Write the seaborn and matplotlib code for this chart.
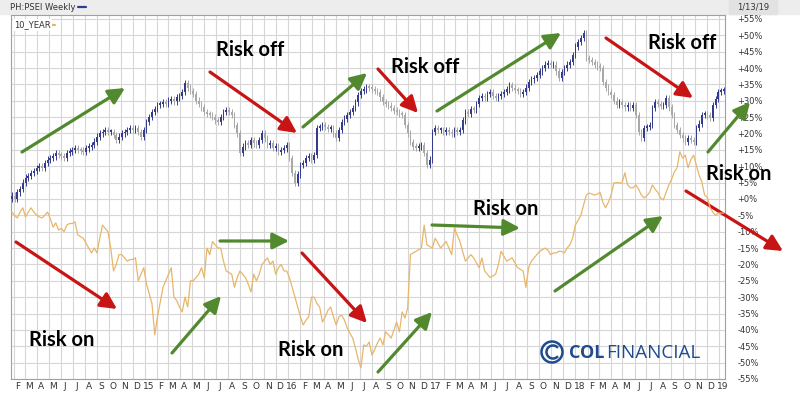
import pandas as pd
import matplotlib as mpl
mpl.use('agg')
import matplotlib.pyplot as plt
import matplotlib.dates as mdates
from matplotlib.ticker import FuncFormatter, NullFormatter, FixedLocator
from matplotlib.patches import Rectangle, Circle, Arc
from matplotlib.lines import Line2D
import seaborn as sns

# weekly PSEI close, % change from start
psei_close = [1, 0, 2, 3, 5, 6.5, 7, 8, 8.5, 9.5,
              10, 9.5, 11, 12, 12.5, 13, 14, 13.5, 13, 12.5,
              14, 14.5, 15, 15.5, 15, 14.8, 14.4, 15.5, 16, 16.5,
              17.5, 19, 20, 20.5, 21, 20.5, 20.5, 19.5, 18, 19,
              20, 20.5, 21, 21.5, 21, 21.7, 20.5, 19, 21, 23.5,
              25, 26.5, 27.5, 28.7, 29, 29.5, 29, 30, 30.5, 29.8,
              31, 31.5, 32.7, 35.4, 34, 33, 32, 30, 29, 28,
              26.6, 26, 25.7, 25, 24, 23.5, 25, 26.6, 27, 26.5,
              25.7, 22.6, 20, 14, 16, 17, 16.5, 18, 17, 16.5,
              18, 20, 18.5, 16.5, 17, 15.6, 16, 14.5, 15, 15.5,
              16.5, 12.5, 8, 5, 7.5, 10.4, 11, 12.5, 13, 12,
              13.4, 21.7, 22, 22.6, 22, 21.5, 21.7, 20, 18.6, 21,
              23.5, 24.5, 25.7, 26.5, 27.8, 29.5, 31.8, 33, 33.5, 34.2,
              34, 33.5, 33, 32.7, 31, 29.6, 29, 28.5, 27.8, 27,
              26.6, 26, 25.7, 22.6, 20, 17.4, 16, 15.6, 16, 16.5,
              14, 10.5, 12, 20.5, 21.7, 21, 21, 20.5, 21, 20.5,
              20, 21, 20.5, 21, 24, 26.6, 26, 27.5, 27.2, 29,
              30.9, 31.5, 31, 32, 32.7, 31.5, 30.9, 31.5, 32, 32.7,
              33.5, 34.8, 34, 33.3, 33, 32, 32.7, 34, 35.8, 36.5,
              37, 37.9, 39, 40, 41, 41.5, 41, 41, 39, 37,
              38.8, 40, 41, 41.9, 44, 46.5, 48, 49.2, 50.7, 43,
              42.5, 41.9, 41, 40.5, 40, 35.8, 34, 32.7, 31.8, 30,
              28.7, 29.5, 28.7, 28, 28.5, 27.8, 28.7, 25.7, 20.5, 18.6,
              21.7, 22, 22.6, 27.8, 29.6, 29, 28.5, 28.7, 30.9, 28,
              25.7, 22.6, 21, 19.6, 18.5, 17.4, 18.6, 18, 17.4, 21.7,
              23, 25.7, 26, 25.5, 24.7, 28.7, 30.5, 32.7, 33, 33.3]

# weekly 10-year yield, % change from start
ten_year = [-4, -5, -5.8, -4, -2.7, -5.5, -4, -2.7, -4, -4.9,
            -5.5, -5.8, -5, -4, -6, -8.6, -7.3, -9.5, -9, -10,
            -8, -7.5, -7.5, -7, -11, -11.5, -12, -13.5, -15, -16.5,
            -15, -16.5, -12, -8, -9, -10, -15, -22, -20, -17,
            -17, -18, -19, -18.5, -18.5, -18, -25, -23, -21, -26,
            -29, -32, -41.5, -36, -31.5, -27, -25, -23, -21, -30,
            -31, -33, -34.5, -30, -33, -25, -25, -24, -23, -21,
            -24, -15, -17, -13, -14, -15, -15, -19, -22, -22.5,
            -23, -27, -24, -22, -23, -24, -26, -28.4, -23, -25,
            -23, -20, -19, -18, -20, -19, -23, -21, -20, -22,
            -22, -24, -27, -30, -33, -36, -38.5, -37, -36, -30,
            -30, -32, -33, -37.6, -36, -34, -33, -36, -38.5, -36,
            -35.5, -37, -39.4, -41, -42.5, -45.5, -49, -51.6, -44.6, -45,
            -43.7, -47.7, -46, -44, -42.5, -44.6, -40.6, -41.5, -42.5, -40,
            -37.6, -40.6, -34.5, -36.4, -33.3, -17, -16.5, -16, -15.5, -15,
            -8, -14, -14.5, -15, -12, -13.5, -15, -14, -13, -15,
            -17, -9, -11, -13, -16, -19, -18, -17, -18, -19.5,
            -21, -18, -22, -23, -24, -23.5, -23, -20, -16, -17.5,
            -19, -18.5, -18, -19.5, -21, -21.5, -22, -27, -21, -19,
            -18, -17, -16, -15.5, -15, -15.6, -17, -16.5, -16.5, -16,
            -16, -16.5, -15, -14, -12, -8, -6.5, -5, -1.8, 1.2,
            1.8, 1.5, 1.2, 1.5, 2, -1, -2.7, -1, 1.2, 4.9,
            5, 4.9, 4.9, 8, 4.3, 3.4, 3.4, 4.3, 3, 1.2,
            0.3, 1, 2, 4.3, 3, 2, 0.3, -0.3, 2, 4.3,
            6, 8.3, 9.5, 14.4, 12.5, 13.4, 9.5, 12, 13.4, 10.4,
            7.3, 5.2, 1.2, 0.5, -2.7, -4, -5, -4.3, -4.3, -4.3]

first_week = "2014-01-27"
pct_ticks = list(range(-55, 60, 5))

# annotation arrows, in image pixels (x0, y0, x1, y1)
green_arrows = [(22, 152, 125, 88), (220, 241, 289, 241), (172, 353, 221, 296),
                (303, 127, 367, 73), (378, 372, 432, 312), (437, 111, 561, 33),
                (432, 225, 520, 228), (555, 291, 663, 216), (708, 152, 750, 102)]
red_arrows = [(16, 242, 117, 309), (210, 72, 297, 133), (302, 253, 367, 323),
              (378, 69, 418, 113), (606, 38, 693, 98), (686, 191, 783, 251)]
risk_labels = [("Risk off", 250, 50), ("Risk off", 425, 67), ("Risk off", 682, 43),
               ("Risk on", 62, 340), ("Risk on", 311, 350), ("Risk on", 506, 209),
               ("Risk on", 739, 174)]

sns.set_style("white")
plt.rcParams['font.family'] = ['DejaVu Sans']

W, H = 800, 395
NAVY = '#343B8C'
GREY = '#A8A8A8'
ORANGE = '#E8B66A'
GREEN = '#52892F'
RED = '#C81414'
LOGO = '#1E4C8C'

fig = plt.figure(figsize=(8, 3.95), dpi=100)
ax = fig.add_axes([11 / W, 1 - 379 / H, (725 - 11) / W, (379 - 15) / H])

df = pd.DataFrame({'date': pd.date_range(first_week, periods=len(psei_close), freq='7D'),
                   'close': psei_close, 'ten': ten_year})
df['open'] = df['close'].shift(1).fillna(0)
df['lo'] = df[['open', 'close']].min(axis=1)
df['hi'] = df[['open', 'close']].max(axis=1)
up = df['close'] >= df['open']

# candles
for mask, col in [(up, NAVY), (~up, GREY)]:
    d = df[mask]
    ax.vlines(d['date'], d['lo'] - 1.0, d['hi'] + 1.0, color=col, lw=0.7, zorder=3)
    ax.bar(d['date'], (d['hi'] - d['lo']).clip(lower=0.6), bottom=d['lo'], width=4.2,
           color=col, zorder=3, linewidth=0)

sns.lineplot(data=df, x='date', y='ten', color=ORANGE, lw=0.9, ax=ax, zorder=4)

ax.set_xlim(pd.Timestamp('2014-01-25'), pd.Timestamp('2019-01-17'))
ax.set_ylim(-55, 56.2)
ax.set_xlabel('')
ax.set_ylabel('')

# month grid + labels
ax.xaxis.set_major_locator(mdates.MonthLocator())
ax.xaxis.set_major_formatter(NullFormatter())
ax.xaxis.set_minor_locator(mdates.MonthLocator(bymonthday=11))


def month_label(v, pos):
    d = mdates.num2date(v)
    return '%02d' % (d.year % 100) if d.month == 1 else d.strftime('%b')[0]


ax.xaxis.set_minor_formatter(FuncFormatter(month_label))
ax.tick_params(axis='x', which='both', length=0, labelsize=6.5, colors='#333333', pad=2)

ax.yaxis.tick_right()
ax.yaxis.set_major_locator(FixedLocator(pct_ticks))
ax.yaxis.set_major_formatter(FuncFormatter(lambda v, p: ('+%d%%' % v) if v >= 0 else ('%d%%' % v)))
ax.tick_params(axis='y', length=0, labelsize=6, colors='#333333', pad=9)

ax.grid(True, which='major', color='#D6D6D6', lw=0.8)
for s in ax.spines.values():
    s.set_color('#A0A0A0')
    s.set_linewidth(0.8)

# header band
fig.add_artist(Rectangle((0, 1 - 14 / H), 1, 14 / H, transform=fig.transFigure,
                         color='#EDEDED', zorder=0))
fig.add_artist(Rectangle((729 / W, 1 - 14 / H), 48 / W, 14 / H, transform=fig.transFigure,
                         color='#E2E2E2', zorder=0))
fig.text(10 / W, 1 - 7 / H, 'PH:PSEI Weekly', fontsize=6, color='#333333', va='center')
fig.add_artist(Line2D([78 / W, 86 / W], [1 - 7 / H] * 2, color=NAVY, lw=1.6))
fig.text(753 / W, 1 - 7 / H, '1/13/19', fontsize=6, color='#333333', va='center', ha='center')
fig.text(14 / W, 1 - 25 / H, '10_YEAR', fontsize=6, color='#333333', va='center',
         bbox=dict(facecolor='white', edgecolor='none', pad=1))
fig.add_artist(Line2D([49 / W, 55 / W], [1 - 25 / H] * 2, color=ORANGE, lw=1.6))

# arrows and labels
for arr, col in [(green_arrows, GREEN), (red_arrows, RED)]:
    for x0, y0, x1, y1 in arr:
        ax.annotate('', xy=(x1, H - y1), xytext=(x0, H - y0),
                    xycoords='figure pixels', textcoords='figure pixels',
                    annotation_clip=False,
                    arrowprops=dict(arrowstyle='-|>,head_length=0.7,head_width=0.35',
                                    color=col, lw=2.3, mutation_scale=14,
                                    shrinkA=0, shrinkB=0))
for txt, x, y in risk_labels:
    fig.text(x / W, 1 - y / H, txt, fontsize=14.5, fontweight='bold', family='Lato',
             ha='center', va='center', color='black', zorder=10)

# logo
cx, cy = 552, H - 352
fig.add_artist(Circle((cx, cy), 10.5, transform=None, fill=False, ec=LOGO, lw=1.8, zorder=10))
fig.add_artist(Arc((cx + 1, cy), 13, 13, theta1=40, theta2=320, transform=None,
                   color=LOGO, lw=1.8, zorder=10))
fig.text(569 / W, 1 - 353 / H, 'COL', fontsize=13, fontweight='bold', family='Open Sans',
         color=LOGO, va='center', zorder=10)
fig.text(606 / W, 1 - 353 / H, 'FINANCIAL', fontsize=13.5, family='Open Sans',
         color=LOGO, va='center', zorder=10)

fig.savefig('out.png', dpi=100)
